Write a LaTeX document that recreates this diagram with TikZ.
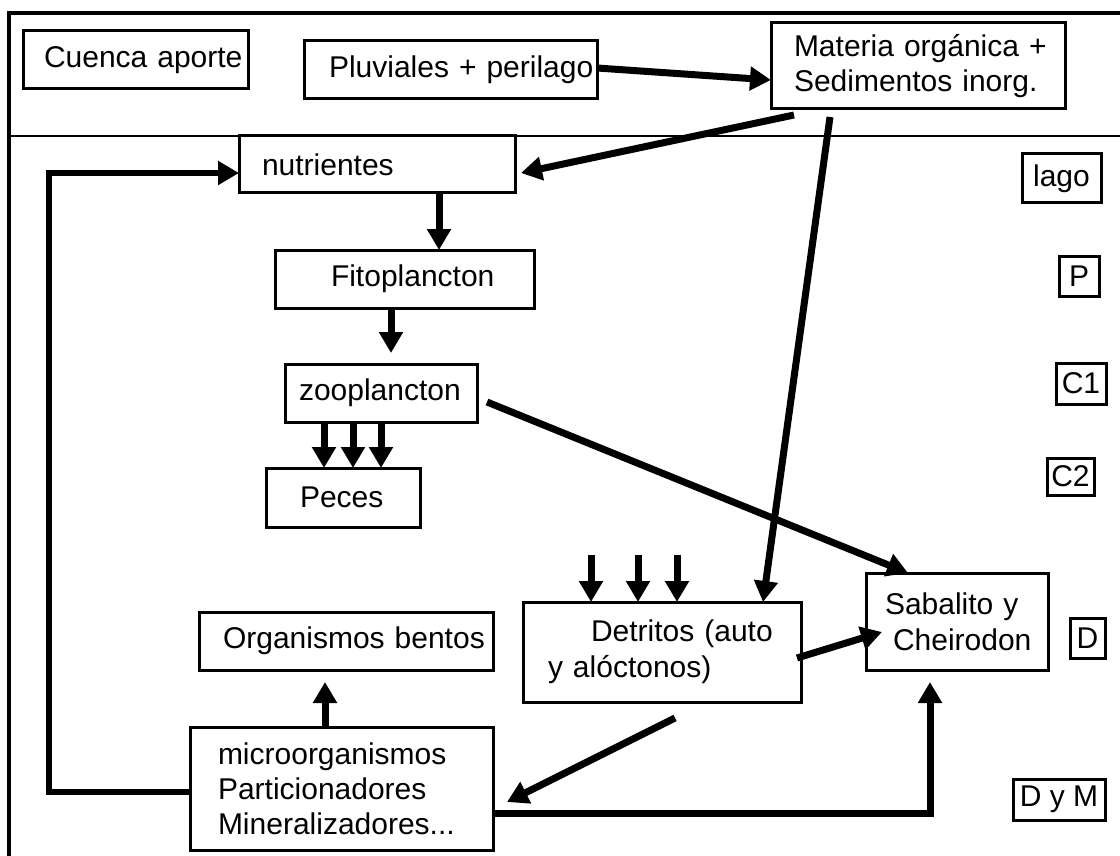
\documentclass[tikz,border=0pt]{standalone}
\usepackage{fontspec}
\setmainfont{Liberation Sans}
\usetikzlibrary{arrows.meta}
\setlength{\parindent}{0pt}
\begin{document}
\begin{tikzpicture}[x=1pt,y=-1pt,
  box/.style={draw, line width=3pt, inner sep=0pt, outer sep=0pt, align=left,
              font=\fontsize{30}{36}\selectfont},
  sbox/.style={draw, line width=3pt, inner sep=0pt, outer sep=0pt, align=center,
              font=\fontsize{30}{36}\selectfont},
  arr/.style={line width=7pt, -{Triangle[length=21pt,width=23pt]}},
]
\useasboundingbox (0,0) rectangle (1120,856);
\clip (0,0) rectangle (1120,856);
\fill[white] (0,0) rectangle (1120,856);
% frame and separator
\draw[line width=4pt] (9,870) -- (9,13) -- (1130,13);
\draw[line width=1.3pt] (9,136) -- (1120,136);

% boxes
\node[box, minimum width=225pt, minimum height=58pt, text width=225pt] (cuenca) at (135.5,60)
  {\hspace*{21pt}\mbox{Cuenca aporte}};
\node[box, minimum width=293pt, minimum height=58pt, text width=293pt] (pluv) at (450.5,70)
  {\hspace*{25pt}\mbox{Pluviales + perilago}};
\node[box, minimum width=294pt, minimum height=86pt, text width=294pt, font=\fontsize{30}{35}\selectfont] (mat) at (918,66)
  {\hspace*{23pt}\mbox{Materia orgánica +}\\\hspace*{23pt}\mbox{Sedimentos inorg.}};
\node[box, minimum width=276pt, minimum height=57pt, text width=276pt] (nutr) at (377,164.5)
  {\hspace*{23pt}\mbox{nutrientes}};
\node[box, minimum width=259pt, minimum height=58pt, text width=259pt] (fito) at (404.5,279)
  {\hspace*{56pt}\mbox{Fitoplancton}};
\node[box, minimum width=192pt, minimum height=58pt, text width=192pt] (zoo) at (381,393)
  {\hspace*{14pt}\mbox{zooplancton}};
\node[box, minimum width=154pt, minimum height=59pt, text width=154pt] (peces) at (343,497.5)
  {\hspace*{34pt}\mbox{Peces}};
\node[box, minimum width=294pt, minimum height=58pt, text width=294pt] (bentos) at (346,641)
  {\hspace*{24pt}\mbox{Organismos bentos}};
\node[box, minimum width=303pt, minimum height=123pt, text width=303pt, font=\fontsize{30}{35}\selectfont] (micro) at (341.5,788.5)
  {\hspace*{28pt}\mbox{microorganismos}\\\hspace*{28pt}\mbox{Particionadores}\\\hspace*{28pt}\mbox{Mineralizadores...}};
\node[box, minimum width=278pt, minimum height=100pt, text width=278pt] (detr) at (662,652)
  {\hspace*{68pt}\mbox{Detritos (auto}\\\hspace*{25pt}\mbox{y alóctonos)}};
\node[box, minimum width=182pt, minimum height=97pt, text width=182pt] (sab) at (957,621.5)
  {\hspace*{19pt}\mbox{Sabalito y}\\\hspace*{27pt}\mbox{Cheirodon}};

% level labels
\node[sbox, minimum width=79pt, minimum height=49pt] (lago) at (1061.5,178.5) {lago};
\node[sbox, minimum width=40pt, minimum height=40pt] (p) at (1079,276) {P};
\node[sbox, minimum width=50pt, minimum height=41pt] (c1) at (1081,383.5) {C1};
\node[sbox, minimum width=47pt, minimum height=37pt] (c2) at (1070.5,476.5) {C2};
\node[sbox, minimum width=35pt, minimum height=40pt] (d) at (1087.5,638) {D};
\node[sbox, minimum width=92pt, minimum height=41pt] (dym) at (1059,799.5) {D y M};

% connectors
\draw[arr] ([yshift=2pt]pluv.east) -- ([yshift=-14pt]mat.west);
\draw[arr] ([xshift=23pt,yshift=-6pt]mat.south west) -- ([xshift=6pt,yshift=-8.5pt]nutr.east);
\draw[arr] ([xshift=59pt,yshift=-8pt]mat.south west) -- ([xshift=101pt]detr.north);
\draw[arr] ([xshift=62pt]nutr.south) -- ([xshift=34.5pt]fito.north);
\draw[arr, shorten >=11pt] ([xshift=-13.5pt]fito.south) -- ([xshift=10pt]zoo.north);
\draw[arr] ([xshift=-57pt]zoo.south) -- ([xshift=-19pt]peces.north);
\draw[arr] ([xshift=-28pt]zoo.south) -- ([xshift=10pt]peces.north);
\draw[arr] (zoo.south) -- ([xshift=38pt]peces.north);
\draw[arr] ([xshift=10pt,yshift=-9pt]zoo.east) -- ([xshift=-49pt]sab.north);
\foreach \dx in {-71,-24,15}
  \draw[arr] ([xshift=\dx pt,yshift=47pt]detr.north) -- ([xshift=\dx pt]detr.north);
\draw[arr] ([xshift=-4pt,yshift=-6pt]detr.east) -- ([xshift=16pt,yshift=-10.5pt]sab.west);
\draw[arr] ([xshift=13pt,yshift=-16pt]detr.south) -- ([xshift=14pt,yshift=-13.5pt]micro.east);
\draw[arr, shorten >=12pt] ([yshift=-24.5pt]micro.east) -| ([xshift=-27pt]sab.south);
\draw[arr, shorten >=12pt] ([xshift=-16.5pt]micro.north) -- ([xshift=-21pt]bentos.south);
\draw[arr, line width=5.5pt] ([yshift=-3.5pt]micro.west) -- ++(-141,0) |- ([yshift=-8.5pt]nutr.west);
\end{tikzpicture}
\end{document}
